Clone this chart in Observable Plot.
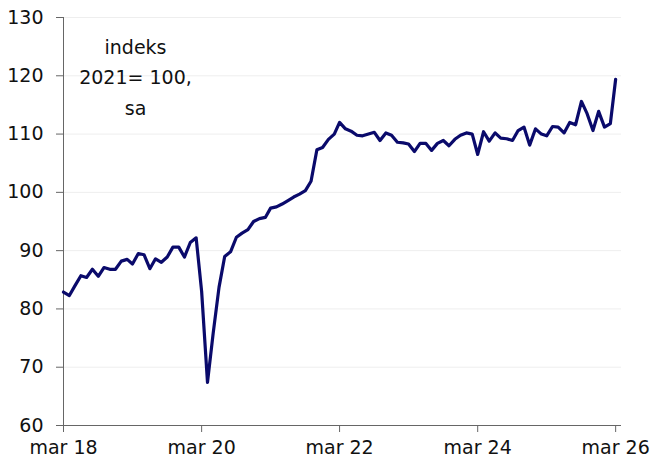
<!DOCTYPE html>
<html>
<head>
<meta charset="utf-8">
<script src="https://cdn.jsdelivr.net/npm/d3@7"></script>
<script src="https://cdn.jsdelivr.net/npm/@observablehq/plot@0.6"></script>
<style>
  html, body { margin: 0; padding: 0; background: #fff; }
  #chart { width: 654px; height: 464px; }
</style>
</head>
<body>
<div id="chart"></div>
<script>
// Monthly index values, March 2018 .. March 2026
const startMonth = "2018-03";
const values = [
  82.9, 82.3, 84.0, 85.7, 85.4, 86.8, 85.6, 87.1, 86.8, 86.8, 88.2, 88.5,
  87.7, 89.5, 89.3, 86.9, 88.6, 88.0, 88.9, 90.6, 90.6, 88.9, 91.4, 92.2,
  83.0, 67.4, 75.8, 83.7, 89.0, 89.8, 92.3, 93.0, 93.6, 95.0, 95.5, 95.7,
  97.3, 97.5, 98.0, 98.6, 99.2, 99.7, 100.3, 101.9, 107.3, 107.7, 109.1, 110.0,
  112.0, 110.9, 110.5, 109.8, 109.7, 110.0, 110.3, 108.9, 110.2, 109.8, 108.6, 108.5,
  108.3, 107.0, 108.4, 108.4, 107.2, 108.4, 108.9, 108.0, 109.1, 109.8, 110.2, 110.0,
  106.5, 110.4, 108.8, 110.2, 109.3, 109.2, 108.9, 110.6, 111.2, 108.1, 110.9, 110.0,
  109.7, 111.3, 111.2, 110.2, 112.0, 111.6, 115.6, 113.5, 110.6, 113.9, 111.2, 111.8,
  119.4
];
const xTickDates = ["2018-03", "2020-03", "2022-03", "2024-03", "2026-03"];
const xTickLabels = ["mar 18", "mar 20", "mar 22", "mar 24", "mar 26"];
const yTicks = [60, 70, 80, 90, 100, 110, 120, 130];
const annotation = "indeks\n2021= 100,\nsa";

const parseMonth = d3.utcParse("%Y-%m");
const start = parseMonth(startMonth);
const data = values.map((v, i) => ({date: d3.utcMonth.offset(start, i), value: v}));
const tickDates = xTickDates.map(parseMonth);
const labelFor = new Map(tickDates.map((d, i) => [+d, xTickLabels[i]]));
const xEnd = d3.utcMonth.offset(data[data.length - 1].date, 1);

const font = "DejaVu Sans";
const chart = Plot.plot({
  width: 654,
  height: 464,
  marginLeft: 63,
  marginTop: 17,
  marginBottom: 39,
  marginRight: 33,
  style: {fontFamily: font, fontSize: "19px", color: "#111", background: "#fff"},
  x: {type: "utc", domain: [start, xEnd]},
  y: {domain: [60, 130]},
  marks: [
    Plot.gridY(yTicks, {stroke: "#eeeeee", strokeOpacity: 1, strokeWidth: 1}),
    Plot.ruleY([60], {stroke: "#666", strokeWidth: 1}),
    Plot.ruleX([start], {stroke: "#666", strokeWidth: 1}),
    Plot.axisY(yTicks, {tickSize: 7, tickPadding: 13, stroke: "#666", fontSize: 19, label: null}),
    Plot.axisX(tickDates, {tickSize: 7, tickPadding: 8, stroke: "#666", fontSize: 19, label: null,
      tickFormat: d => labelFor.get(+d)}),
    Plot.line(data, {x: "date", y: "value", stroke: "#0a0a6b", strokeWidth: 3.2, strokeLinejoin: "round", strokeLinecap: "round"}),
    Plot.text([annotation], {frameAnchor: "top-left", dx: 72, dy: 15, text: d => d, fontSize: 19, lineHeight: 1.6, fill: "#111", textAnchor: "middle"})
  ]
});
document.getElementById("chart").appendChild(chart);
</script>
</body>
</html>
